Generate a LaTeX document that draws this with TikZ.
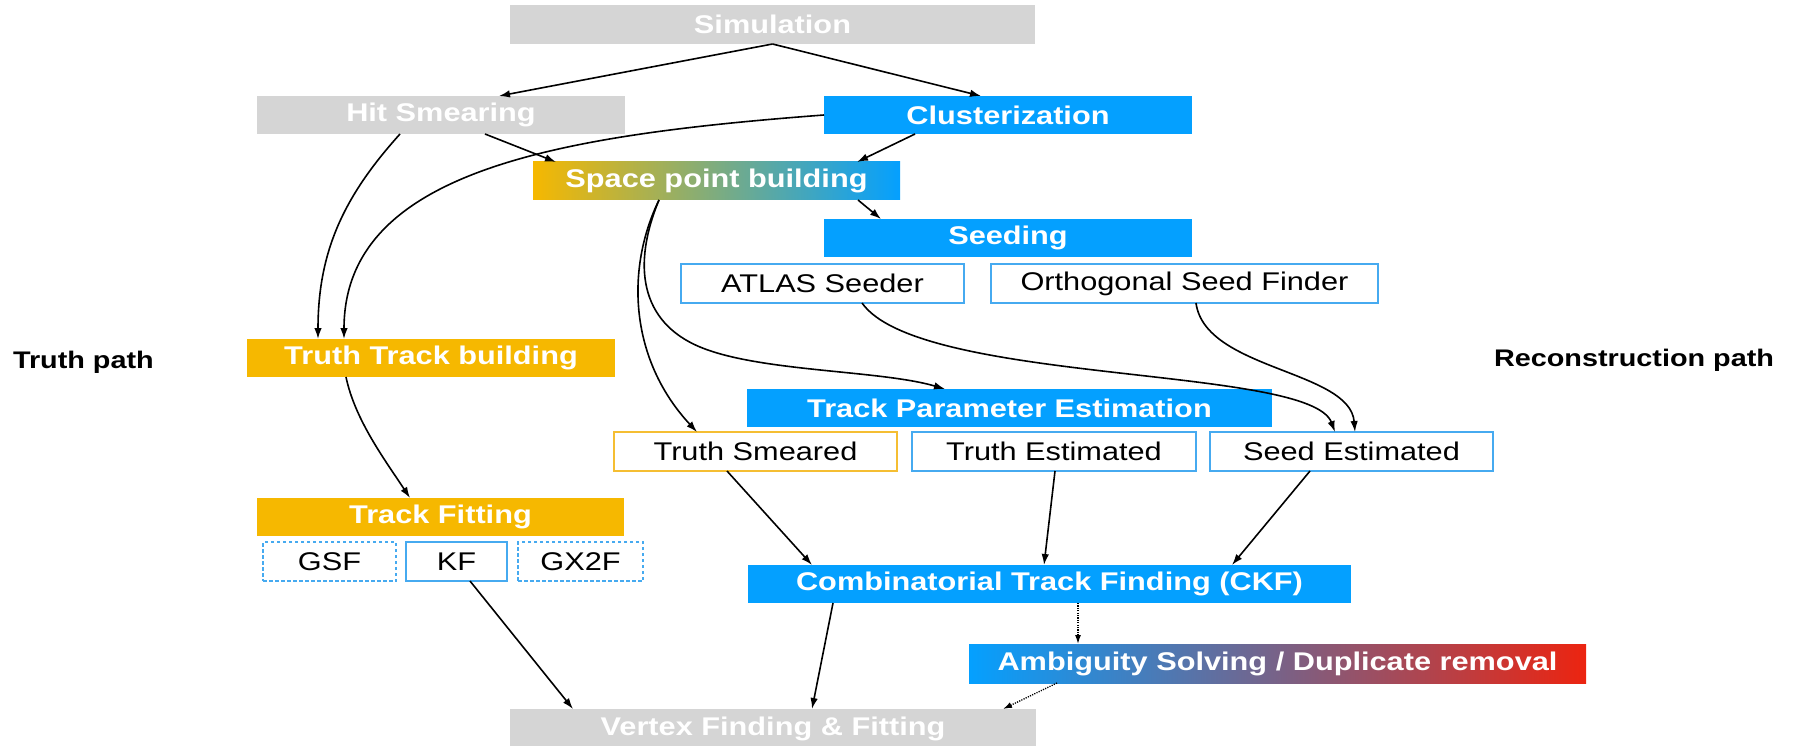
\documentclass[tikz,border=0pt]{standalone}
\usepackage{fontspec}
\setmainfont{Liberation Sans}[FakeStretch=1.2]
\usetikzlibrary{arrows.meta}

\definecolor{cblue}{RGB}{4,160,255}
\definecolor{corange}{RGB}{246,184,0}
\definecolor{cgray}{RGB}{213,213,213}
\definecolor{cred}{RGB}{236,36,16}
\definecolor{cedge}{RGB}{70,170,240}
\definecolor{coedge}{RGB}{245,190,50}

\begin{document}
\begin{tikzpicture}[x=1pt,y=-1pt,
  every node/.style={inner sep=0pt, outer sep=0pt, anchor=north west},
  stage/.style={font=\fontsize{25.6}{30}\selectfont\bfseries, text=white, minimum height=38pt},
  greybox/.style={stage, fill=cgray},
  bluebox/.style={stage, fill=cblue},
  orangebox/.style={stage, fill=corange},
  option/.style={font=\fontsize{25.6}{30}\selectfont, text=black, fill=white, draw=cedge, line width=1.8pt, minimum height=39pt},
  optdash/.style={option, dash pattern=on 3.5pt off 2.5pt},
  pathlabel/.style={font=\fontsize{24}{28}\selectfont\bfseries, anchor=west},
  arr/.style={-{Latex[length=11pt,width=7.5pt]}, line width=1.6pt},
  dotarr/.style={-{Latex[length=9pt,width=6pt]}, line width=1.3pt, dash pattern=on 1.2pt off 1.2pt}
]
\useasboundingbox (0,0) rectangle (1802,746);

% stages
\node[greybox, minimum width=525pt, minimum height=39pt] (sim) at (510,5) {Simulation};
\node[greybox, minimum width=368pt] (hit) at (257,96) {Hit Smearing};
\node[bluebox, minimum width=368pt] (clu) at (824,96) {Clusterization};
\node[stage, left color=corange, right color=cblue, minimum width=367pt] (spb) at (533,162) {Space point building};
\node[bluebox, minimum width=368pt] (seed) at (824,219) {Seeding};
\node[option, minimum width=283pt] (atlas) at (681,264) {ATLAS Seeder};
\node[option, minimum width=387pt] (ortho) at (991,264) {Orthogonal Seed Finder};
\node[orangebox, minimum width=368pt] (ttb) at (247,339) {Truth Track building};
\node[bluebox, minimum width=525pt] (tpe) at (747,389) {Track Parameter Estimation};
\node[option, draw=coedge, minimum width=283pt] (tsm) at (614,432) {Truth Smeared};
\node[option, minimum width=284pt] (test) at (912,432) {Truth Estimated};
\node[option, minimum width=283pt] (sest) at (1210,432) {Seed Estimated};
\node[orangebox, minimum width=367pt] (tfit) at (257,498) {Track Fitting};
\node[optdash, minimum width=133pt] (gsf) at (263,542) {GSF};
\node[option, minimum width=101pt] (kf) at (406,542) {KF};
\node[optdash, minimum width=125pt] (gx2f) at (518,542) {GX2F};
\node[bluebox, minimum width=603pt] (ckf) at (748,565) {Combinatorial Track Finding (CKF)};
\node[stage, left color=cblue, right color=cred, minimum width=617pt, minimum height=39pt] (amb) at (969,644) {Ambiguity Solving / Duplicate removal};
\node[greybox, minimum width=526pt, minimum height=39pt] (vtx) at (510,709) {Vertex Finding \& Fitting};

% side labels
\node[pathlabel] (truthlbl) at (13,362) {Truth path};
\node[pathlabel] (recolbl) at (1494,360) {Reconstruction path};

% connectors
\draw[arr] (sim.south) -- ([xshift=58pt]hit.north);
\draw[arr] (sim.south) -- ([xshift=-27pt]clu.north);
\draw[arr] ([xshift=44pt]hit.south) -- ([xshift=23pt]spb.north west);
\draw[arr] ([xshift=-93pt]clu.south) -- ([xshift=-43pt]spb.north east);
\draw[arr] (clu.west) .. controls (560,135) and (344,170) .. ([xshift=97pt]ttb.north west);
\draw[arr] ([xshift=-41pt]hit.south) .. controls (345,195) and (318,250) .. ([xshift=71pt]ttb.north west);
\draw[arr] ([xshift=126pt]spb.south west) .. controls (625,270) and (630,360) .. ([xshift=83pt]tsm.north west);
\draw[arr] ([xshift=126pt]spb.south west) .. controls (632,265) and (640,322) .. (700,347)
  .. controls (760,372) and (880,370) .. ([xshift=198pt]tpe.north west);
\draw[arr] ([xshift=-42pt]spb.south east) -- ([xshift=57pt]seed.north west);
\draw[arr] ([xshift=181pt]atlas.south west) .. controls (920,385) and (1310,365) .. ([xshift=125pt]sest.north west);
\draw[arr] ([xshift=205pt]ortho.south west) .. controls (1205,370) and (1350,370) .. ([xshift=145pt]sest.north west);
\draw[arr] ([xshift=99pt]ttb.south west) .. controls (355,420) and (385,460) .. ([xshift=153pt]tfit.north west);
\draw[arr] ([xshift=113pt]tsm.south west) -- ([xshift=64pt]ckf.north west);
\draw[arr] ([xshift=143pt]test.south west) -- ([xshift=296pt]ckf.north west);
\draw[arr] ([xshift=100pt]sest.south west) -- ([xshift=484pt]ckf.north west);
\draw[arr] ([xshift=64pt]kf.south west) -- ([xshift=63pt]vtx.north west);
\draw[arr] ([xshift=85pt]ckf.south west) -- ([xshift=302pt]vtx.north west);
\draw[dotarr] ([xshift=330pt]ckf.south west) -- ([xshift=109pt]amb.north west);
\draw[dotarr] ([xshift=88pt]amb.south west) -- ([xshift=-33pt]vtx.north east);
\end{tikzpicture}
\end{document}
